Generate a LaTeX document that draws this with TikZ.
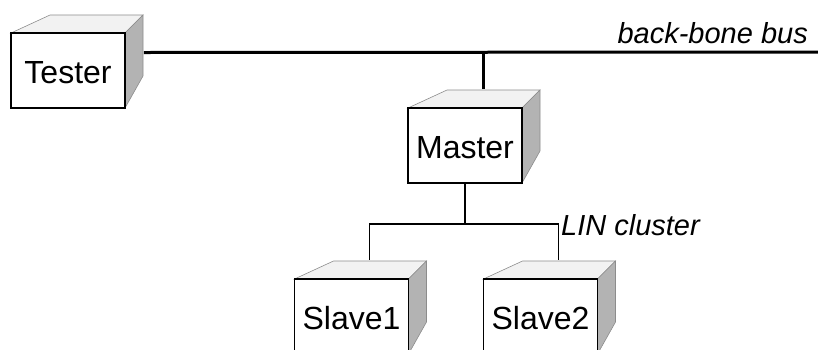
\documentclass[tikz,border=0pt]{standalone}
\usepackage{fontspec}
\setmainfont{Liberation Sans}
\definecolor{topgray}{HTML}{F2F2F2}
\definecolor{sidegray}{HTML}{B3B3B3}
\definecolor{edgegray}{HTML}{8C8C8C}
\begin{document}
\begin{tikzpicture}[x=1pt,y=-1pt,
  front/.style={draw,line width=1.6pt,fill=white,minimum width=114pt,
    minimum height=75pt,inner sep=0pt,text depth=0pt,
    font=\fontsize{32}{38}\selectfont},
  topface/.style={fill=topgray,draw=edgegray,line width=0.6pt},
  sideface/.style={fill=sidegray,draw=edgegray,line width=0.6pt},
  busline/.style={line width=3pt},
  linline/.style={line width=1.6pt},
  buslabel/.style={font=\fontsize{29}{34}\selectfont\itshape,inner sep=0pt}]
% a box in perspective: top and right faces, then the front node
\def\lincube#1#2#3#4{%
  \coordinate (#1-c) at (#2,#3);
  \draw[topface] ([shift={(-57,-37.5)}]#1-c) -- ++(39,-18)
    -- ([shift={(75,-55.5)}]#1-c) -- ([shift={(57,-37.5)}]#1-c) -- cycle;
  \draw[sideface] ([shift={(57,-37.5)}]#1-c) -- ++(18,-18)
    -- ([shift={(75,5.5)}]#1-c) -- ([shift={(57,37.5)}]#1-c) -- cycle;
  \node[front] (#1) at (#1-c) {\raisebox{-3pt}{#4}};
  \coordinate (#1-top) at ([shift={(18,-18)}]#1.north);
}
\useasboundingbox (0,0) rectangle (818,349);
\clip (0,0) rectangle (818,349);
% boxes
\lincube{tester}{68}{70.5}{Tester}
\lincube{master}{465}{145.5}{Master}
\lincube{slave1}{351.5}{316.5}{Slave1}
\lincube{slave2}{540.5}{316.5}{Slave2}
% back-bone bus
\coordinate (busend) at (818,52);
\draw[busline] ([shift={(18,-18)}]tester.east) -- (busend);
\draw[busline] (master-top) -- (master-top |- busend);
\node[buslabel,anchor=base east] (buslbl) at (808,43) {back-bone bus};
% LIN cluster
\coordinate (linbus) at ([shift={(0,40)}]master.south);
\draw[linline] (master.south) -- (linbus);
\draw[linline] (linbus) -| (slave1-top);
\draw[linline] (linbus) -| (slave2-top);
\node[buslabel,anchor=base west] (linlbl) at (561,235) {LIN cluster};
\end{tikzpicture}
\end{document}
